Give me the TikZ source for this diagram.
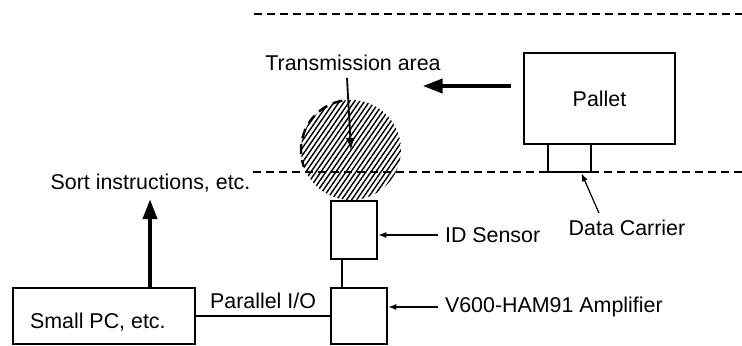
\documentclass[tikz,border=0pt]{standalone}
\usepackage{fontspec}
\setmainfont{Liberation Sans}
\usetikzlibrary{arrows.meta}

\begin{document}
\begin{tikzpicture}[x=0.5pt,y=-0.5pt,
  font=\fontsize{10.7pt}{12pt}\selectfont,
  box/.style={draw,line width=1.3pt,inner sep=0pt},
  lead/.style={line width=0.6pt,-{Latex[length=4pt,width=3pt]}},
  bigarrow/.style={line width=2pt,-{Triangle[length=10pt,width=7pt]}},
  track/.style={line width=1pt,dash pattern=on 4pt off 2.5pt}]
  \useasboundingbox (0,0) rectangle (742,346);

  % transmission area
  \coordinate (area) at (351,150);
  \begin{scope}
    \clip (area) circle (25pt);
    \foreach \i in {-16,...,16}
      \draw[line width=0.7pt] ([shift={(5*\i-40,58)}]area) -- ++(80,-116);
  \end{scope}
  \draw[line width=1.2pt,dash pattern=on 5pt off 3pt] ([shift={(100:25pt)}]area) arc[start angle=100,end angle=200,radius=25pt];

  % conveyor edges
  \draw[track] (254,14) -- (742,14);
  \draw[track] (253,172) -- (742,172);

  % units
  \node[box,minimum width=75.5pt,minimum height=45.5pt] (pallet) at (599.5,98.5) {Pallet};
  \node[box,minimum width=21.5pt,minimum height=14pt] (carrier) at (569.5,158) {};
  \node[box,minimum width=23pt,minimum height=29pt] (sensor) at (354,230) {};
  \node[box,minimum width=28pt,minimum height=28pt] (amp) at (359,316) {};
  \node[box,minimum width=91pt,minimum height=28pt] (pc) at (104,316) {};
  \node[anchor=west] (pctext) at (23,322) {Small PC, etc.};

  % labels
  \node (trans) at (353,63) {Transmission area};
  \node (sort) at (150.5,183) {Sort instructions, etc.};
  \node[anchor=west] (idlabel) at (438,235) {ID Sensor};
  \node[anchor=west] (amplabel) at (438,307) {V600-HAM91 Amplifier};
  \node (carlabel) at (627,228) {Data Carrier};

  % wiring
  \draw[line width=0.6pt] ([xshift=-6pt]sensor.south) -- ([xshift=-6pt]sensor.south |- amp.north);
  \draw[line width=0.6pt] (pc.east) -- (pc.east -| amp.west) node[midway,above] (pio) {Parallel I/O};

  % arrows
  \draw[bigarrow] ([xshift=23pt]pc.north) -- ([xshift=23pt]pc.north |- sort.south);
  \draw[bigarrow] ([shift={(-6pt,6.25pt)}]pallet.west) -- ++(-88,0);
  \draw[line width=0.9pt,-{Latex[length=6pt,width=4.5pt]}] ([xshift=-3pt]trans.south) -- (area);
  \draw[lead] (idlabel.west) -- (idlabel.west -| sensor.east);
  \draw[lead] (amplabel.west) -- (amplabel.west -| amp.east);
  \draw[lead] ([xshift=-14pt]carlabel.north) -- ([xshift=6pt]carrier.south);
\end{tikzpicture}
\end{document}
